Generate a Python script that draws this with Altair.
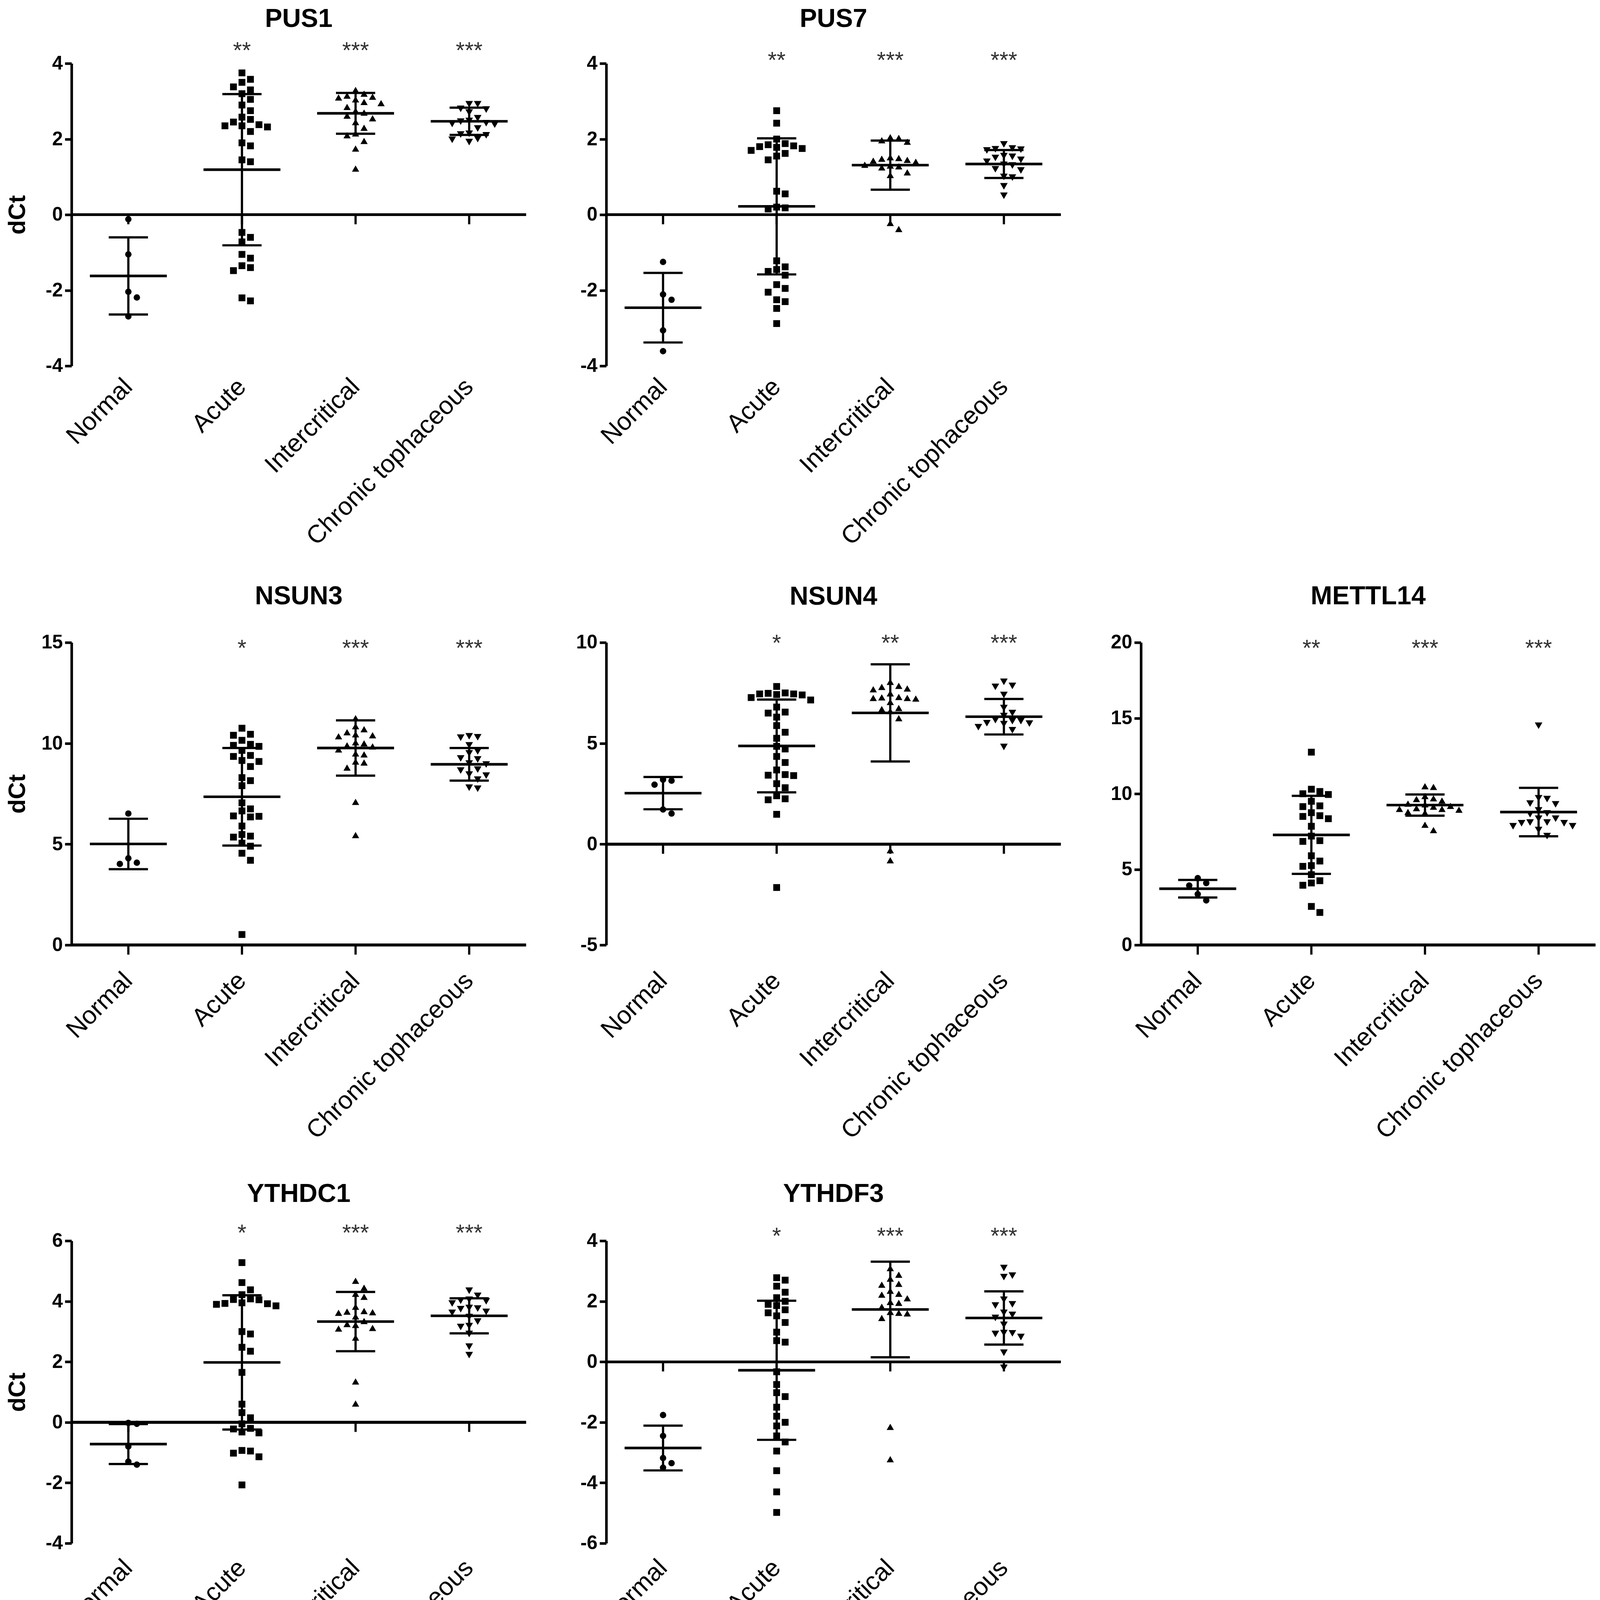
import altair as alt
import numpy as np
import pandas as pd

FONT = "Liberation Sans"
GROUPS = ["Normal", "Acute", "Intercritical", "Chronic tophaceous"]
SHAPES = ["circle", "square", "triangle-up", "triangle-down"]
SIZES = [300, 420, 470, 470]

# ---------------- data (dCt) ----------------
PUS1_NORMAL = [-0.12, -1.05, -2.04, -2.19, -2.69]
PUS1_ACUTE = [3.75, 3.58, 3.50, 3.38, 3.30, 3.20, 3.05, 2.90, 2.75, 2.58, 2.52, 2.45, 2.38, 2.35, 2.35,
              2.32, 2.20, 1.90, 1.82, 1.45, 1.40, -0.47, -0.60, -0.72, -1.05, -1.15, -1.35, -1.40, -1.48,
              -2.20, -2.28]
PUS1_INTER = [3.30, 3.20, 3.15, 3.12, 3.10, 3.05, 2.98, 2.95, 2.85, 2.75, 2.70, 2.62, 2.55, 2.45, 2.30,
              2.15, 2.10, 1.95, 1.75, 1.22]
PUS1_CHRONIC = [2.92, 2.92, 2.80, 2.78, 2.70, 2.55, 2.48, 2.46, 2.42, 2.40, 2.38, 2.28, 2.14, 2.12, 2.10,
                2.00, 1.98, 1.92]
PUS1_MEAN = [-1.62, 1.19, 2.68, 2.47]
PUS1_SD = [1.02, 2.00, 0.54, 0.36]
PUS1_STARS = ["", "**", "***", "***"]

PUS7_NORMAL = [-1.25, -2.11, -2.25, -3.06, -3.61]
PUS7_ACUTE = [2.75, 2.42, 2.00, 1.88, 1.85, 1.82, 1.80, 1.78, 1.75, 1.70, 1.62, 1.55, 1.45, 0.62, 0.55,
              0.20, 0.18, 0.15, -1.22, -1.38, -1.45, -1.50, -1.60, -1.85, -1.95, -2.05, -2.25, -2.30,
              -2.48, -2.88]
PUS7_INTER = [2.05, 2.03, 1.97, 1.93, 1.52, 1.50, 1.48, 1.45, 1.43, 1.40, 1.32, 1.30, 1.28, 1.25, 1.12,
              1.05, -0.22, -0.38]
PUS7_CHRONIC = [1.86, 1.75, 1.73, 1.72, 1.70, 1.55, 1.53, 1.50, 1.45, 1.40, 1.32, 1.30, 1.20, 1.17, 1.00,
                0.98, 0.75, 0.50]
PUS7_MEAN = [-2.46, 0.22, 1.31, 1.34]
PUS7_SD = [0.92, 1.80, 0.65, 0.37]
PUS7_STARS = ["", "**", "***", "***"]

NSUN3_NORMAL = [6.52, 4.30, 4.08, 4.02]
NSUN3_ACUTE = [10.75, 10.45, 10.40, 10.15, 9.95, 9.90, 9.85, 9.65, 9.40, 9.35, 9.15, 9.10, 8.85, 8.30,
               8.15, 7.90, 7.05, 6.75, 6.65, 6.40, 6.38, 6.35, 5.90, 5.48, 5.40, 5.35, 5.05, 4.90, 4.55,
               4.20, 0.52]
NSUN3_INTER = [11.25, 10.85, 10.70, 10.55, 10.45, 10.40, 10.35, 10.05, 10.00, 9.90, 9.85, 9.70, 9.50,
               9.45, 9.10, 9.05, 8.80, 7.10, 5.45]
NSUN3_CHRONIC = [10.35, 10.30, 10.28, 9.90, 9.60, 9.50, 9.25, 9.20, 9.00, 8.95, 8.70, 8.65, 8.45, 8.40,
                 8.20, 7.80, 7.75]
NSUN3_MEAN = [5.01, 7.35, 9.77, 8.96]
NSUN3_SD = [1.25, 2.42, 1.37, 0.81]
NSUN3_STARS = ["", "*", "***", "***"]

NSUN4_NORMAL = [3.20, 3.15, 2.95, 1.72, 1.52]
NSUN4_ACUTE = [7.82, 7.50, 7.48, 7.45, 7.45, 7.42, 7.40, 7.27, 7.15, 6.80, 6.55, 6.50, 6.30, 5.88, 5.55,
               5.25, 4.85, 4.72, 4.35, 4.05, 3.68, 3.45, 3.42, 3.40, 3.00, 2.80, 2.40, 2.25, 2.20, 1.48,
               -2.15]
NSUN4_INTER = [8.05, 7.85, 7.80, 7.72, 7.68, 7.48, 7.30, 7.28, 7.25, 7.25, 7.22, 7.05, 6.75, 6.70, 6.60,
               6.25, -0.30, -0.80]
NSUN4_CHRONIC = [8.05, 7.85, 7.80, 7.40, 6.75, 6.50, 6.35, 6.15, 6.10, 6.10, 6.00, 5.98, 5.95, 5.80,
                 5.65, 4.82]
NSUN4_MEAN = [2.53, 4.87, 6.51, 6.32]
NSUN4_SD = [0.80, 2.30, 2.41, 0.88]
NSUN4_STARS = ["", "*", "**", "***"]

METTL14_NORMAL = [4.42, 4.09, 3.93, 3.36, 2.95]
METTL14_ACUTE = [12.75, 10.30, 10.15, 10.00, 9.95, 9.50, 9.20, 9.15, 8.75, 8.55, 8.50, 8.35, 7.85, 7.20,
                 6.90, 6.85, 5.90, 5.55, 5.25, 5.20, 4.65, 4.25, 4.10, 3.95, 2.55, 2.15]
METTL14_INTER = [10.50, 10.45, 9.85, 9.70, 9.65, 9.55, 9.35, 9.30, 9.20, 9.15, 9.05, 9.00, 9.00, 8.95,
                 8.80, 8.75, 7.95, 7.60]
METTL14_CHRONIC = [14.50, 9.70, 9.65, 9.35, 9.30, 8.90, 8.70, 8.65, 8.35, 8.35, 8.10, 8.10, 8.05, 8.05,
                   7.85, 7.85, 7.60, 7.20]
METTL14_MEAN = [3.72, 7.28, 9.25, 8.79]
METTL14_SD = [0.58, 2.58, 0.70, 1.60]
METTL14_STARS = ["", "**", "***", "***"]

YTHDC1_NORMAL = [-0.02, -0.05, -0.80, -1.30, -1.40]
YTHDC1_ACUTE = [5.28, 4.62, 4.38, 4.22, 4.08, 4.06, 4.05, 3.95, 3.93, 3.92, 3.90, 3.85, 3.00, 2.92, 2.48,
                2.35, 1.65, 0.60, 0.32, 0.15, -0.05, -0.20, -0.22, -0.32, -0.35, -0.93, -0.95, -1.02,
                -1.14, -2.07]
YTHDC1_INTER = [4.68, 4.45, 4.25, 4.15, 3.82, 3.68, 3.66, 3.64, 3.62, 3.50, 3.35, 3.25, 3.22, 3.12, 3.10,
                2.80, 1.35, 0.62]
YTHDC1_CHRONIC = [4.35, 4.18, 4.05, 4.02, 4.00, 3.93, 3.78, 3.76, 3.74, 3.65, 3.62, 3.48, 3.33, 3.18,
                  3.15, 2.92, 2.50, 2.22]
YTHDC1_MEAN = [-0.72, 1.98, 3.33, 3.52]
YTHDC1_SD = [0.66, 2.22, 0.98, 0.58]
YTHDC1_STARS = ["", "*", "***", "***"]

YTHDF3_NORMAL = [-1.76, -2.45, -3.18, -3.35, -3.50]
YTHDF3_ACUTE = [2.78, 2.70, 2.50, 2.30, 2.12, 2.00, 1.90, 1.86, 1.72, 1.62, 1.52, 1.30, 0.98, 0.70, 0.65,
                -0.33, -0.75, -1.02, -1.15, -1.50, -1.80, -2.00, -2.12, -2.45, -2.65, -2.95, -3.60,
                -4.30, -4.98]
YTHDF3_INTER = [3.10, 2.88, 2.75, 2.58, 2.55, 2.35, 2.25, 2.22, 2.10, 1.98, 1.95, 1.82, 1.65, 1.62, 1.60,
                1.45, -2.15, -3.22]
YTHDF3_CHRONIC = [3.10, 2.85, 2.80, 2.05, 1.90, 1.86, 1.62, 1.55, 1.45, 1.22, 0.95, 0.94, 0.92, 0.82,
                  0.30, -0.20]
YTHDF3_MEAN = [-2.85, -0.28, 1.73, 1.45]
YTHDF3_SD = [0.74, 2.30, 1.58, 0.88]
YTHDF3_STARS = ["", "*", "***", "***"]

# ---------------- layout / style ----------------
W, H = 1229, 818
STAR_FONT = 62
LINE_W = 7


def swarm(values, px_per_unit, d=21.0, step=23.0):
    """Prism-like horizontal spreading of points that would overlap (pixel offsets)."""
    vals = np.asarray(values, dtype=float)
    order = np.argsort(-vals, kind="stable")
    placed = []
    offs = np.zeros(len(vals))
    cands = [0.0] + [s * j for j in range(1, 30) for s in (1, -1)]
    for i in order:
        y = vals[i] * px_per_unit
        x = 0.0
        for c in cands:
            x = c * step
            if all(not (abs(x - px) < d and abs(y - py) < d) for px, py in placed):
                break
        placed.append((x, y))
        offs[i] = x
    return offs


def panel(title, groups_vals, means, sds, stars, ydom, ystep, ytitle, star_off, title_off, x_extent,
          x_pad):
    ppu = H / (ydom[1] - ydom[0])
    rows = []
    for gi, vals in enumerate(groups_vals):
        offs = swarm(vals, ppu)
        for v, o in zip(vals, offs):
            rows.append({"group": GROUPS[gi], "idx": gi, "value": v, "xpos": gi + o / (W / 4.0)})
    pts = pd.DataFrame(rows)
    m = np.array(means)
    s = np.array(sds)
    summ = pd.DataFrame({"idx": list(range(4)), "mean": m, "lo": m - s, "hi": m + s, "star": stars,
                         "zero": [0.0] * 4})

    yvals = list(np.arange(ydom[0], ydom[1] + 0.001, ystep).astype(int))
    xscale = alt.Scale(domain=[-0.5, 3.5], nice=False, zero=False)
    yscale = alt.Scale(domain=list(ydom), nice=False, zero=False)
    label_expr = "[" + ",".join("'%s'" % g for g in GROUPS) + "][datum.value]"
    xaxis = alt.Axis(values=[0, 1, 2, 3], labelExpr=label_expr, domain=False, ticks=False, grid=False,
                     labelAngle=315, labelAlign="right", labelBaseline="middle", labelPadding=x_pad,
                     labelOffset=0, labelFontSize=68, labelFont=FONT, labelColor="black", title=None,
                     labelLimit=3000, minExtent=x_extent, maxExtent=x_extent, labelOverlap=False)
    yaxis_kw = dict(values=yvals, labelExpr="'' + datum.value", grid=False, domainWidth=LINE_W,
                    domainColor="black", tickWidth=LINE_W, tickColor="black", tickSize=18,
                    labelFontSize=52, labelFontWeight="bold", labelFont=FONT, labelColor="black",
                    labelPadding=6, minExtent=105, maxExtent=105)
    if ytitle:
        yaxis = alt.Axis(title="dCt", titleFontSize=64, titleFontWeight="bold", titleFont=FONT,
                         titleColor="black", titlePadding=8, **yaxis_kw)
    else:
        yaxis = alt.Axis(title=None, **yaxis_kw)

    def X(field):
        return alt.X(field, type="quantitative", scale=xscale, axis=xaxis)

    def Y(field):
        return alt.Y(field, type="quantitative", scale=yscale, axis=yaxis)

    points = alt.Chart(pts).mark_point(filled=True, opacity=1, strokeWidth=0).encode(
        x=X("xpos"), y=Y("value"),
        shape=alt.Shape("group:N", scale=alt.Scale(domain=GROUPS, range=SHAPES), legend=None),
        size=alt.Size("group:N", scale=alt.Scale(domain=GROUPS, range=SIZES), legend=None),
        color=alt.value("black"),
    )
    zero_line = alt.Chart(summ).mark_rule(color="black", strokeWidth=LINE_W).encode(y=Y("zero"))
    zero_ticks = alt.Chart(summ).mark_tick(orient="vertical", size=26, thickness=6, color="black",
                                           yOffset=13, opacity=1).encode(x=X("idx"), y=Y("zero"))
    err = alt.Chart(summ).mark_rule(color="black", strokeWidth=6).encode(x=X("idx"), y=Y("lo"), y2="hi")
    mean_tick = alt.Chart(summ).mark_tick(orient="horizontal", size=208, thickness=LINE_W, color="black",
                                          opacity=1).encode(x=X("idx"), y=Y("mean"))
    cap_lo = alt.Chart(summ).mark_tick(orient="horizontal", size=106, thickness=6, color="black",
                                       opacity=1).encode(x=X("idx"), y=Y("lo"))
    cap_hi = alt.Chart(summ).mark_tick(orient="horizontal", size=106, thickness=6, color="black",
                                       opacity=1).encode(x=X("idx"), y=Y("hi"))
    star_txt = alt.Chart(summ).mark_text(font=FONT, fontSize=STAR_FONT, color="#333333",
                                         baseline="alphabetic", align="center").encode(
        x=X("idx"), y=alt.value(-star_off + 36), text="star:N")

    return alt.layer(points, zero_line, zero_ticks, err, mean_tick, cap_lo, cap_hi, star_txt).properties(
        width=W, height=H,
        title=alt.TitleParams(text=title, fontSize=70, fontWeight="bold", font=FONT, color="black",
                              offset=title_off, anchor="middle"),
    )


p_pus1 = panel("PUS1", [PUS1_NORMAL, PUS1_ACUTE, PUS1_INTER, PUS1_CHRONIC], PUS1_MEAN, PUS1_SD,
               PUS1_STARS, (-4, 4), 2, True, 50, 20, 549, 46)
p_pus7 = panel("PUS7", [PUS7_NORMAL, PUS7_ACUTE, PUS7_INTER, PUS7_CHRONIC], PUS7_MEAN, PUS7_SD,
               PUS7_STARS, (-4, 4), 2, False, 24, 46, 549, 46)
p_nsun3 = panel("NSUN3", [NSUN3_NORMAL, NSUN3_ACUTE, NSUN3_INTER, NSUN3_CHRONIC], NSUN3_MEAN, NSUN3_SD,
                NSUN3_STARS, (0, 15), 5, True, 0, 62, 599, 86)
p_nsun4 = panel("NSUN4", [NSUN4_NORMAL, NSUN4_ACUTE, NSUN4_INTER, NSUN4_CHRONIC], NSUN4_MEAN, NSUN4_SD,
                NSUN4_STARS, (-5, 10), 5, False, 14, 59, 599, 86)
p_mettl14 = panel("METTL14", [METTL14_NORMAL, METTL14_ACUTE, METTL14_INTER, METTL14_CHRONIC],
                  METTL14_MEAN, METTL14_SD, METTL14_STARS, (0, 20), 5, False, 0, 62, 599, 86)
p_ythdc1 = panel("YTHDC1", [YTHDC1_NORMAL, YTHDC1_ACUTE, YTHDC1_INTER, YTHDC1_CHRONIC], YTHDC1_MEAN,
                 YTHDC1_SD, YTHDC1_STARS, (-4, 6), 2, True, 36, 40, 470, 56)
p_ythdf3 = panel("YTHDF3", [YTHDF3_NORMAL, YTHDF3_ACUTE, YTHDF3_INTER, YTHDF3_CHRONIC], YTHDF3_MEAN,
                 YTHDF3_SD, YTHDF3_STARS, (-6, 4), 2, False, 28, 48, 470, 56)

row1 = alt.hconcat(p_pus1, p_pus7, spacing=108)
row2 = alt.hconcat(p_nsun3, p_nsun4, p_mettl14, spacing=108)
row3 = alt.hconcat(p_ythdc1, p_ythdf3, spacing=108)

chart = alt.vconcat(row1, row2, row3, spacing=40).properties(
    padding={"left": 8, "top": -120, "right": 0, "bottom": 0}, background="white"
).configure_view(stroke=None)

chart.save("out.html", embed_options={"renderer": "svg", "actions": False})
